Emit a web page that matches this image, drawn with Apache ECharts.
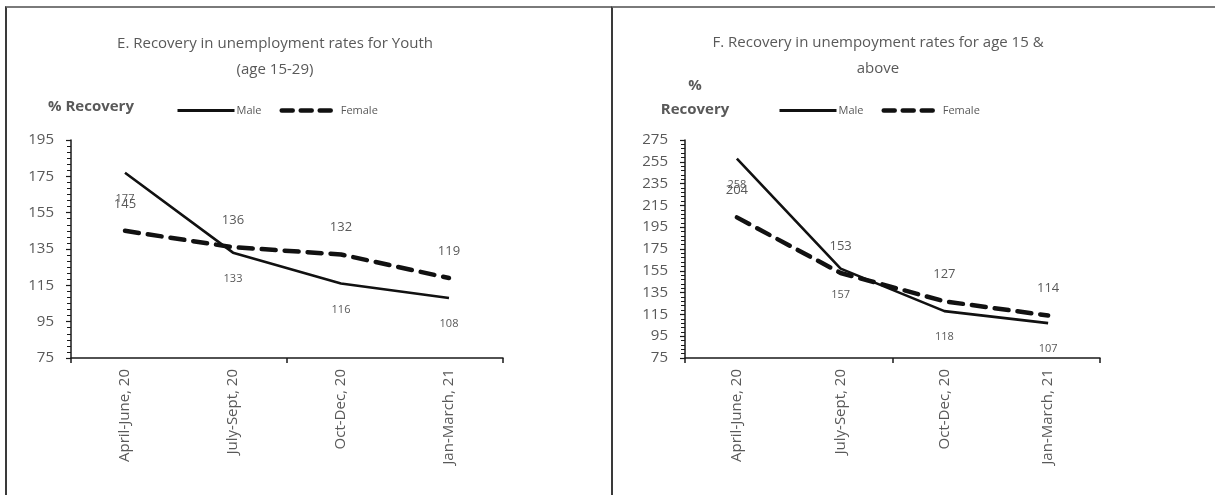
<!DOCTYPE html>
<html>
<head>
<meta charset="utf-8">
<script src="https://cdn.jsdelivr.net/npm/echarts@6/dist/echarts.min.js"></script>
<style>
	body { margin: 0; background: #fff; }
	#main { position: absolute; left: 0; top: 0; width: 1215px; height: 495px; }
	.panel { position: absolute; top: 6px; height: 489px; border-top: 2px solid #7a7a7a; border-left: 2px solid #3a3a3a; pointer-events: none; }
</style>
</head>
<body>
<div id="main"></div>
<div class="panel" style="left:5px;width:606px"></div>
<div class="panel" style="left:611px;width:604px"></div>
<script>
	// quarters on the x axis
	const quarters = ['April-June, 20', 'July-Sept, 20', 'Oct-Dec, 20', 'Jan-March, 21']
	// E. youth (15-29)
	const youthMale = [177, 133, 116, 108]
	const youthFemale = [145, 136, 132, 119]
	// F. age 15 & above
	const allMale = [258, 157, 118, 107]
	const allFemale = [204, 153, 127, 114]

	const gray = '#595959'
	const font = 'Open Sans'
	const dash = [14, 9]

	const chart = echarts.init(document.getElementById('main'))

	function xAxis(idx) {
		return {
			type: 'category',
			gridIndex: idx,
			data: quarters,
			boundaryGap: true,
			axisLine: { lineStyle: { color: '#1a1a1a', width: 1.5 } },
			// excel draws a tick every 2nd category boundary
			axisTick: {
				show: true,
				interval: function(index) {
					return index % 2 === 0
				},
				length: 5,
				lineStyle: { color: '#1a1a1a', width: 1.5 }
			},
			axisLabel: { rotate: 90, color: gray, fontSize: 15, fontFamily: font, margin: 11, interval: 0 },
			splitLine: { show: false }
		}
	}

	function yAxis(idx, max, minorSplit) {
		return {
			type: 'value',
			gridIndex: idx,
			min: 75,
			max: max,
			interval: 20,
			axisLine: { show: true, lineStyle: { color: '#1a1a1a', width: 1.5 } },
			axisTick: { show: true, length: 5, lineStyle: { color: '#1a1a1a', width: 1.2 } },
			minorTick: { show: true, splitNumber: minorSplit, length: 4, lineStyle: { color: '#1a1a1a', width: 1 } },
			axisLabel: { color: gray, fontSize: 15, fontFamily: font, margin: 17 },
			splitLine: { show: false }
		}
	}

	function maleSeries(idx, values) {
		return {
			name: 'Male',
			type: 'line',
			xAxisIndex: idx,
			yAxisIndex: idx,
			data: values,
			symbol: 'circle',
			symbolSize: 1,
			itemStyle: { color: 'rgba(0,0,0,0)' },
			lineStyle: { color: '#111', width: 2.6 },
			label: { show: true, position: 'bottom', distance: 20, color: gray, fontSize: 11, fontFamily: font },
			emphasis: { disabled: true },
			z: 3
		}
	}

	function femaleSeries(idx, values) {
		return {
			name: 'Female',
			type: 'line',
			xAxisIndex: idx,
			yAxisIndex: idx,
			data: values,
			symbol: 'circle',
			symbolSize: 1,
			itemStyle: { color: 'rgba(0,0,0,0)' },
			lineStyle: { color: '#111', width: 4.5, type: dash, cap: 'round' },
			label: { show: true, position: 'top', distance: 20, color: gray, fontSize: 13, fontFamily: font },
			emphasis: { disabled: true },
			z: 2
		}
	}

	function legend(left) {
		return {
			data: [{
					name: 'Male',
					lineStyle: { color: '#111', width: 3 }
				},
				{
					name: 'Female',
					lineStyle: { color: '#111', width: 4.5, type: [11, 8], cap: 'round' }
				}
			],
			left: left,
			top: 100,
			itemWidth: 57,
			itemHeight: 14,
			itemGap: 18,
			selectedMode: false,
			textStyle: { color: gray, fontSize: 11, fontFamily: font, padding: [0, 0, 0, -3] }
		}
	}

	chart.setOption({
		animation: false,
		textStyle: { fontFamily: font },
		title: [{
				text: 'E. Recovery in unemployment rates for Youth\n(age 15-29)',
				left: 270,
				top: 26,
				textAlign: 'center',
				textStyle: { color: gray, fontSize: 15, fontWeight: 'normal', lineHeight: 26, fontFamily: font }
			},
			{
				text: 'F. Recovery in unempoyment rates for age 15 &\nabove',
				left: 873,
				top: 25,
				textAlign: 'center',
				textStyle: { color: gray, fontSize: 15, fontWeight: 'normal', lineHeight: 26, fontFamily: font }
			},
			{
				text: '% Recovery',
				left: 86,
				top: 94,
				textAlign: 'center',
				textStyle: { color: gray, fontSize: 15, fontWeight: 'bold', fontFamily: font }
			},
			{
				text: '%\nRecovery',
				left: 690,
				top: 69,
				textAlign: 'center',
				textStyle: { color: gray, fontSize: 15, fontWeight: 'bold', lineHeight: 24, fontFamily: font }
			}
		],
		legend: [legend(171), legend(773)],
		grid: [{
				left: 71,
				top: 140,
				width: 432,
				height: 218
			},
			{
				left: 685,
				top: 140,
				width: 415,
				height: 218
			}
		],
		xAxis: [xAxis(0), xAxis(1)],
		yAxis: [yAxis(0, 195, 6), yAxis(1, 275, 5)],
		series: [
			maleSeries(0, youthMale),
			femaleSeries(0, youthFemale),
			maleSeries(1, allMale),
			femaleSeries(1, allFemale)
		]
	})
</script>
</body>
</html>
